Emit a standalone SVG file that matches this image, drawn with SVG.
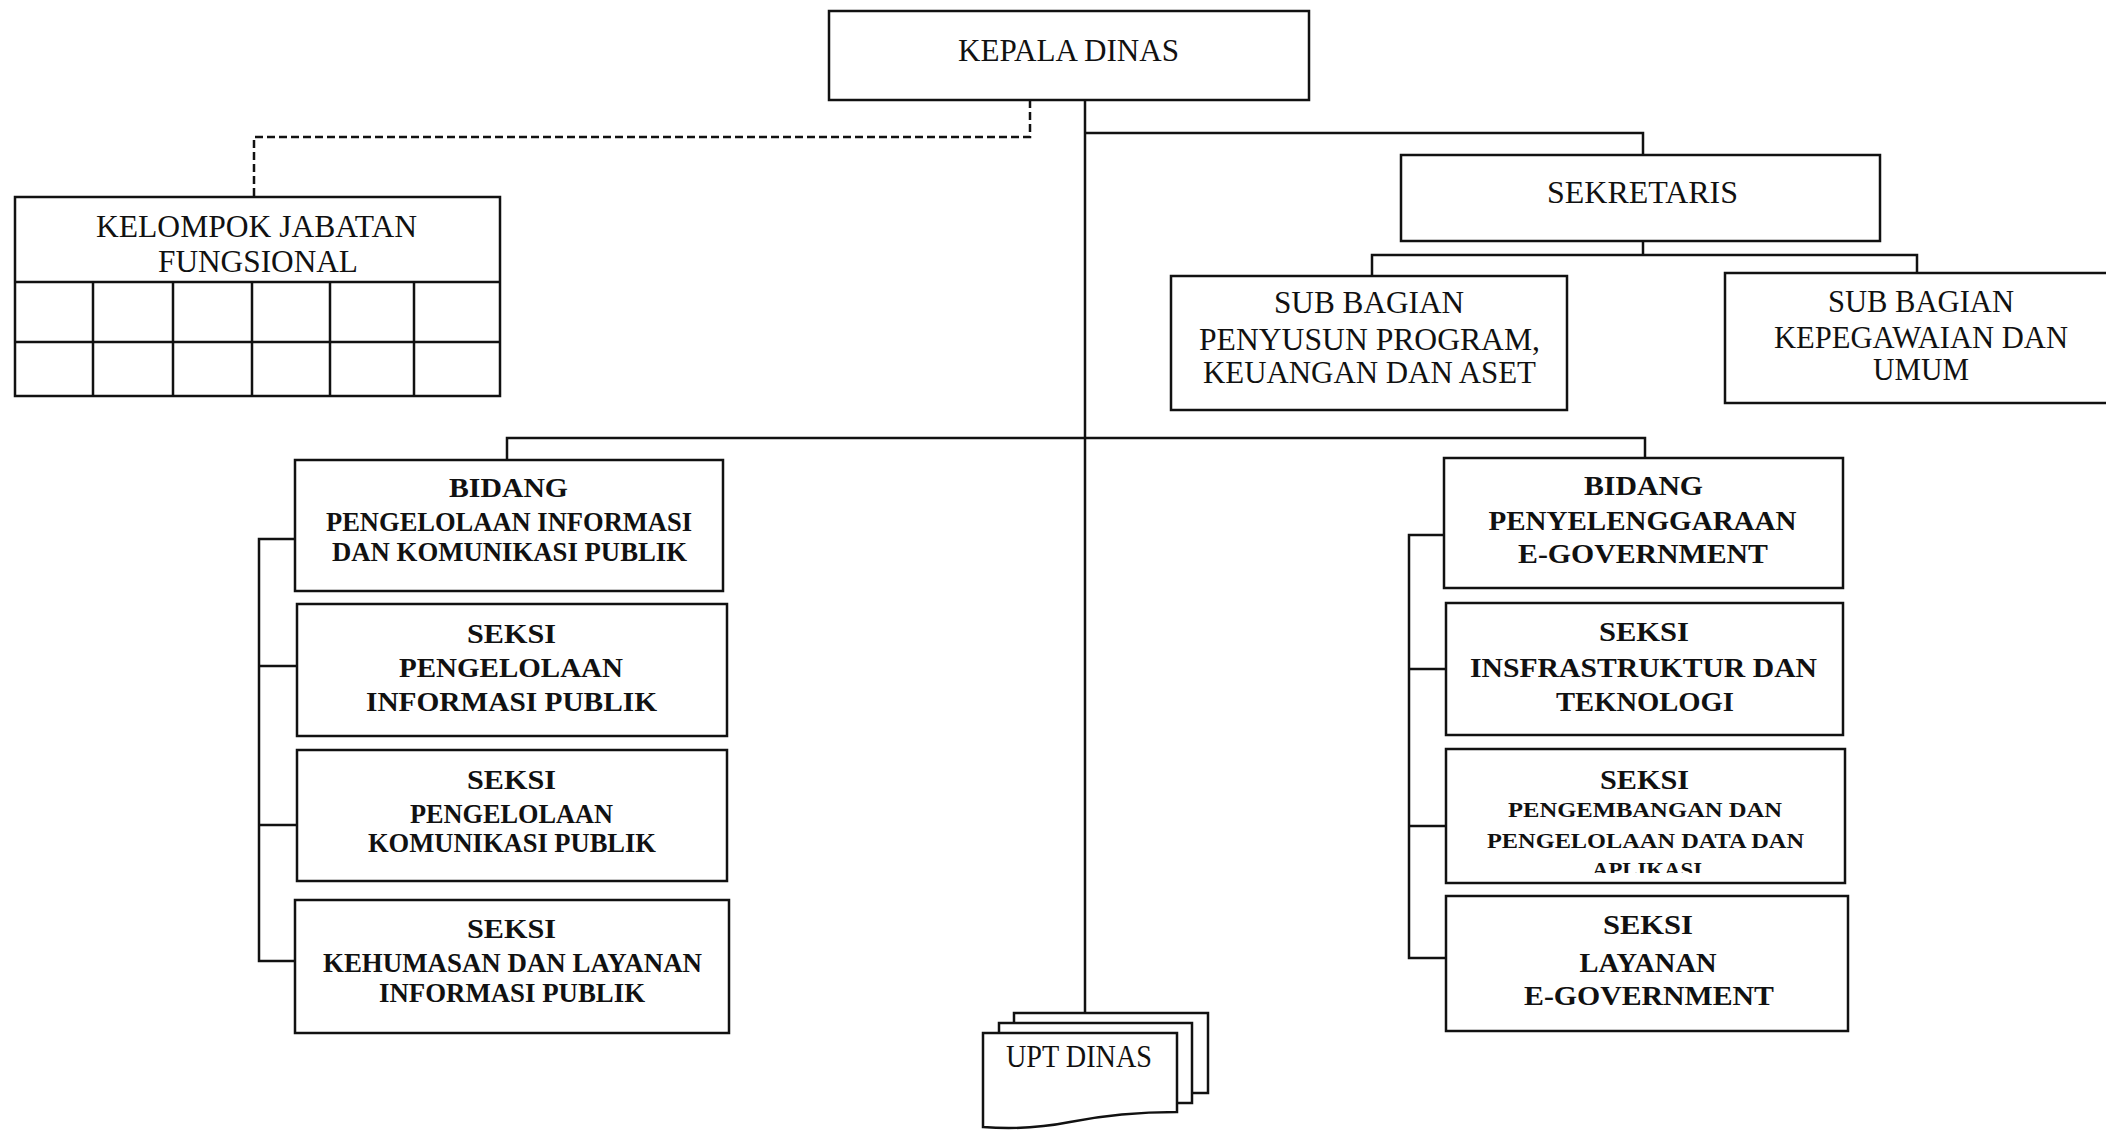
<svg xmlns="http://www.w3.org/2000/svg" width="2106" height="1130" viewBox="0 0 2106 1130">
<style>
.box{fill:#fff;stroke:#111;stroke-width:2.5}
.ln{fill:none;stroke:#111;stroke-width:2.5}
.dash{fill:none;stroke:#111;stroke-width:2.5;stroke-dasharray:8 4}
.t1{font-family:"Liberation Serif",serif;font-size:31px;fill:#111;text-anchor:middle}
.t2{font-family:"Liberation Serif",serif;font-weight:bold;font-size:27px;fill:#111;text-anchor:middle}
.t3{font-family:"Liberation Serif",serif;font-weight:bold;font-size:22px;fill:#111;text-anchor:middle}
</style>
<defs>
<clipPath id="clipApl"><rect x="1450" y="850" width="390" height="23"/></clipPath>
</defs>
<rect width="2106" height="1130" fill="#fff"/>

<g id="connectors">
<path class="dash" d="M1030,100 V137 H254 V197"/>
<path class="ln" d="M1085,100 V1013"/>
<path class="ln" d="M1085,133 H1643 V155"/>
<path class="ln" d="M1643,241 V255"/>
<path class="ln" d="M1372,276 V255 H1917 V273"/>
<path class="ln" d="M507,460 V438 H1645 V458"/>
<path class="ln" d="M295,539 H259 V961 H295"/>
<path class="ln" d="M259,666 H297"/>
<path class="ln" d="M259,825 H297"/>
<path class="ln" d="M1444,535 H1409 V958 H1446"/>
<path class="ln" d="M1409,669 H1446"/>
<path class="ln" d="M1409,826 H1446"/>
</g>

<g id="kepala-dinas">
<rect class="box" x="829" y="11" width="480" height="89"/>
<text class="t1" x="1068.5" y="61" textLength="221" lengthAdjust="spacingAndGlyphs">KEPALA DINAS</text>
</g>

<g id="kelompok-jabatan-fungsional">
<rect class="box" x="15" y="197" width="485" height="199"/>
<path class="ln" d="M15,282 H500 M15,342 H500 M93,282 V396 M173,282 V396 M252,282 V396 M330,282 V396 M414,282 V396"/>
<text class="t1" x="256.5" y="237" textLength="321" lengthAdjust="spacingAndGlyphs">KELOMPOK JABATAN</text>
<text class="t1" x="258" y="272" textLength="200" lengthAdjust="spacingAndGlyphs">FUNGSIONAL</text>
</g>

<g id="sekretaris">
<rect class="box" x="1401" y="155" width="479" height="86"/>
<text class="t1" x="1642.5" y="203" textLength="191" lengthAdjust="spacingAndGlyphs">SEKRETARIS</text>
</g>

<g id="subbag-program">
<rect class="box" x="1171" y="276" width="396" height="134"/>
<text class="t1" x="1369" y="313" textLength="190" lengthAdjust="spacingAndGlyphs">SUB BAGIAN</text>
<text class="t1" x="1369.5" y="350" textLength="341" lengthAdjust="spacingAndGlyphs">PENYUSUN PROGRAM,</text>
<text class="t1" x="1369.5" y="383" textLength="333" lengthAdjust="spacingAndGlyphs">KEUANGAN DAN ASET</text>
</g>

<g id="subbag-kepegawaian">
<rect class="box" x="1725" y="273" width="400" height="130"/>
<text class="t1" x="1921" y="312" textLength="186" lengthAdjust="spacingAndGlyphs">SUB BAGIAN</text>
<text class="t1" x="1921" y="348" textLength="294" lengthAdjust="spacingAndGlyphs">KEPEGAWAIAN DAN</text>
<text class="t1" x="1921" y="380" textLength="96" lengthAdjust="spacingAndGlyphs">UMUM</text>
</g>

<g id="bidang-ikp">
<rect class="box" x="295" y="460" width="428" height="131"/>
<text class="t2" x="508.5" y="497" textLength="119" lengthAdjust="spacingAndGlyphs">BIDANG</text>
<text class="t2" x="509" y="531" textLength="366" lengthAdjust="spacingAndGlyphs">PENGELOLAAN INFORMASI</text>
<text class="t2" x="509.5" y="561" textLength="355" lengthAdjust="spacingAndGlyphs">DAN KOMUNIKASI PUBLIK</text>
</g>

<g id="seksi-informasi-publik">
<rect class="box" x="297" y="604" width="430" height="132"/>
<text class="t2" x="511.5" y="643" textLength="89" lengthAdjust="spacingAndGlyphs">SEKSI</text>
<text class="t2" x="511" y="677" textLength="224" lengthAdjust="spacingAndGlyphs">PENGELOLAAN</text>
<text class="t2" x="511.5" y="711" textLength="291" lengthAdjust="spacingAndGlyphs">INFORMASI PUBLIK</text>
</g>

<g id="seksi-komunikasi-publik">
<rect class="box" x="297" y="750" width="430" height="131"/>
<text class="t2" x="511.5" y="789" textLength="89" lengthAdjust="spacingAndGlyphs">SEKSI</text>
<text class="t2" x="511.5" y="823" textLength="203" lengthAdjust="spacingAndGlyphs">PENGELOLAAN</text>
<text class="t2" x="512" y="852" textLength="288" lengthAdjust="spacingAndGlyphs">KOMUNIKASI PUBLIK</text>
</g>

<g id="seksi-kehumasan">
<rect class="box" x="295" y="900" width="434" height="133"/>
<text class="t2" x="511.5" y="938" textLength="89" lengthAdjust="spacingAndGlyphs">SEKSI</text>
<text class="t2" x="512.5" y="972" textLength="379" lengthAdjust="spacingAndGlyphs">KEHUMASAN DAN LAYANAN</text>
<text class="t2" x="512" y="1002" textLength="266" lengthAdjust="spacingAndGlyphs">INFORMASI PUBLIK</text>
</g>

<g id="bidang-egov">
<rect class="box" x="1444" y="458" width="399" height="130"/>
<text class="t2" x="1643.5" y="495" textLength="119" lengthAdjust="spacingAndGlyphs">BIDANG</text>
<text class="t2" x="1642.5" y="530" textLength="308" lengthAdjust="spacingAndGlyphs">PENYELENGGARAAN</text>
<text class="t2" x="1643" y="563" textLength="250" lengthAdjust="spacingAndGlyphs">E-GOVERNMENT</text>
</g>

<g id="seksi-infrastruktur">
<rect class="box" x="1446" y="603" width="397" height="132"/>
<text class="t2" x="1644" y="641" textLength="90" lengthAdjust="spacingAndGlyphs">SEKSI</text>
<text class="t2" x="1643.5" y="677" textLength="347" lengthAdjust="spacingAndGlyphs">INSFRASTRUKTUR DAN</text>
<text class="t2" x="1645" y="711" textLength="178" lengthAdjust="spacingAndGlyphs">TEKNOLOGI</text>
</g>

<g id="seksi-data-aplikasi">
<rect class="box" x="1446" y="749" width="399" height="134"/>
<text class="t2" x="1644.5" y="789" textLength="89" lengthAdjust="spacingAndGlyphs">SEKSI</text>
<text class="t3" x="1645" y="817" textLength="274" lengthAdjust="spacingAndGlyphs">PENGEMBANGAN DAN</text>
<text class="t3" x="1645.5" y="848" textLength="317" lengthAdjust="spacingAndGlyphs">PENGELOLAAN DATA DAN</text>
<text class="t3" x="1647" y="877" textLength="110" lengthAdjust="spacingAndGlyphs" clip-path="url(#clipApl)">APLIKASI</text>
</g>

<g id="seksi-layanan-egov">
<rect class="box" x="1446" y="896" width="402" height="135"/>
<text class="t2" x="1648" y="934" textLength="90" lengthAdjust="spacingAndGlyphs">SEKSI</text>
<text class="t2" x="1648" y="972" textLength="137" lengthAdjust="spacingAndGlyphs">LAYANAN</text>
<text class="t2" x="1649" y="1005" textLength="250" lengthAdjust="spacingAndGlyphs">E-GOVERNMENT</text>
</g>

<g id="upt-dinas">
<rect class="box" x="1014" y="1013" width="194" height="80"/>
<rect class="box" x="999" y="1023" width="193" height="80"/>
<path class="box" d="M983,1033 H1177 V1112 C1150,1112 1110,1114 1070,1122 C1040,1128 1010,1129 983,1127 Z"/>
<text class="t1" x="1079" y="1067" textLength="146" lengthAdjust="spacingAndGlyphs">UPT DINAS</text>
</g>
</svg>
